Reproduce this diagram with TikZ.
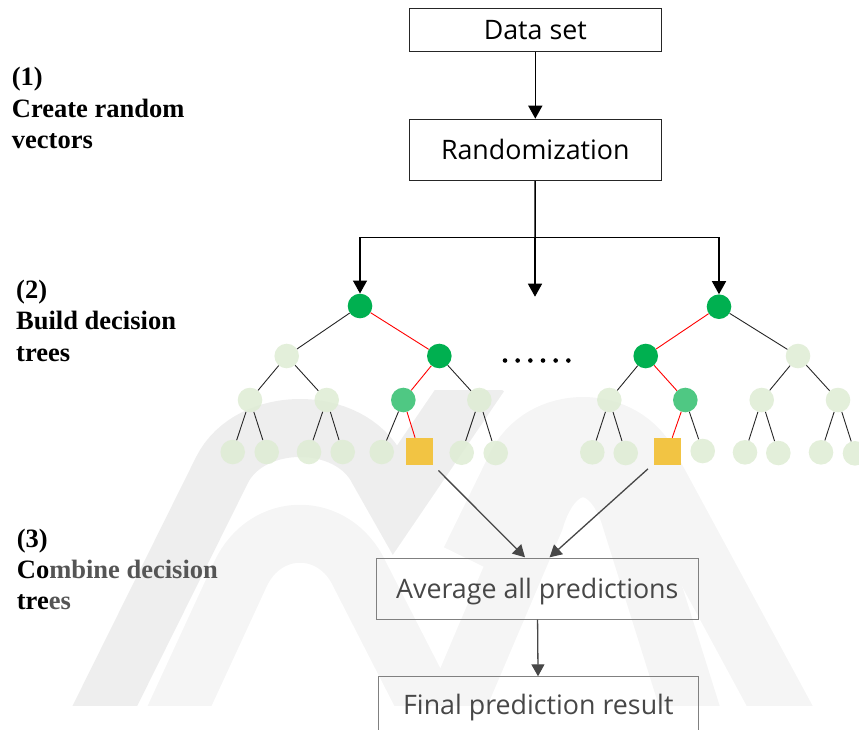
\documentclass[tikz,border=0pt]{standalone}
\usepackage{fontspec}
\setmainfont{Liberation Serif}
\newfontfamily\boxfont{Open Sans}
\usetikzlibrary{arrows.meta}

\definecolor{dgreen}{HTML}{00B050}
\definecolor{mgreen}{HTML}{4FC883}
\definecolor{lgreen}{HTML}{DEECD4}
\definecolor{gold}{HTML}{F2C443}
\definecolor{wmA}{HTML}{EEEEEE}
\definecolor{wmB}{HTML}{F5F5F5}
\definecolor{txtgray}{HTML}{474747}
\definecolor{fadetxt}{HTML}{555555}

\tikzset{
  box/.style={draw=black!85, line width=0.8pt, inner sep=0pt,
    text height=19pt, text depth=0pt,
    font=\boxfont\fontsize{26.8}{30}\selectfont},
  outbox/.style={box, draw=black!50, text=txtgray},
  dnode/.style={circle, fill=dgreen, minimum size=24.6pt, inner sep=0pt},
  mnode/.style={circle, fill=mgreen, minimum size=24.6pt, inner sep=0pt},
  fnode/.style={circle, fill=lgreen, fill opacity=0.85, minimum size=24.6pt, inner sep=0pt},
  leaf/.style={rectangle, fill=gold, minimum size=26.7pt, inner sep=0pt},
  tedge/.style={black!85, line width=0.9pt},
  redge/.style={red, line width=0.9pt},
  flow/.style={black, line width=1.5pt},
  flowarrow/.style={flow, -{Triangle[length=13pt,width=14pt]}},
  garrow/.style={draw=txtgray, line width=1.3pt, -{Triangle[length=12pt,width=13pt]}},
  lbl/.style={anchor=base west, inner sep=0pt,
    font=\bfseries\fontsize{26.5}{31}\selectfont},
}

\begin{document}
\begin{tikzpicture}[x=1pt,y=-1pt]
\useasboundingbox (0,0) rectangle (859,729);
\clip (0,0) rectangle (859,729);

% faint background logo
\begin{scope}
  \clip (0,390) rectangle (859,705);
  \draw[wmB, line width=58pt, line join=round]
    (150,770) -- (240,575) .. controls (265,520) and (335,520) .. (360,575) -- (470,790);
  \draw[wmB, line width=58pt, line join=round]
    (420,790) -- (535,520) .. controls (555,451) and (611,451) .. (631,520) -- (700,740);
  \draw[wmB, line width=58pt, line join=round]
    (470,560) -- (515,468) .. controls (540,412) and (626,412) .. (651,468) -- (790,725);
  \draw[wmA, line width=58pt, line join=miter]
    (78,760) -- (222,470) .. controls (250,414) and (350,414) .. (378,470) -- (395,500) -- (480,375);
\end{scope}

% flow boxes
\node[box, minimum width=252.7pt, minimum height=43.4pt] (ds) at (535.3,30) {Data set};
\node[box, minimum width=252.7pt, minimum height=61.7pt] (rand) at (535.3,149.9) {Randomization};
\node[outbox, minimum width=322.6pt, minimum height=61pt] (avg) at (537.3,588.8) {Average all predictions};
\node[outbox, text depth=5pt, minimum width=320.6pt, minimum height=61pt] (fin) at (538.3,707.2) {Final prediction result};

% left tree
\node[dnode] (lr) at (360,306) {};
\node[fnode] (la) at (286.7,356) {};
\node[dnode] (lb) at (439.3,356) {};
\node[fnode] (lc) at (250,400) {};
\node[fnode] (ld) at (326.7,400) {};
\node[mnode] (le) at (403.3,400) {};
\node[fnode] (lf) at (479.3,400) {};
\node[fnode] (l1) at (232.7,452) {};
\node[fnode] (l2) at (266.7,452) {};
\node[fnode] (l3) at (309,452) {};
\node[fnode] (l4) at (342.7,452) {};
\node[fnode] (l5) at (381.7,452) {};
\node[leaf]  (l6) at (419.3,451.3) {};
\node[fnode] (l7) at (461.7,452.7) {};
\node[fnode] (l8) at (495.7,453) {};

\draw[tedge] (lr) -- (la);
\draw[redge] (lr) -- (lb);
\draw[tedge] (la) -- (lc);
\draw[tedge] (la) -- (ld);
\draw[redge] (lb) -- (le);
\draw[tedge] (lb) -- (lf);
\draw[tedge] (lc) -- (l1);
\draw[tedge] (lc) -- (l2);
\draw[tedge] (ld) -- (l3);
\draw[tedge] (ld) -- (l4);
\draw[tedge] (le) -- (l5);
\draw[redge] (le) -- (l6);
\draw[tedge] (lf) -- (l7);
\draw[tedge] (lf) -- (l8);

% right tree
\node[dnode] (rr) at (719,306.7) {};
\node[dnode] (ra) at (645.7,356) {};
\node[fnode] (rb) at (798,356) {};
\node[fnode] (rc) at (609.3,400) {};
\node[mnode] (rd) at (685.3,400) {};
\node[fnode] (re) at (761.7,400) {};
\node[fnode] (rf) at (838,400) {};
\node[fnode] (r1) at (592.3,452.3) {};
\node[fnode] (r2) at (625.7,453) {};
\node[leaf]  (r3) at (667.5,451.3) {};
\node[fnode] (r4) at (702.7,451) {};
\node[fnode] (r5) at (745,452.3) {};
\node[fnode] (r6) at (778.3,453) {};
\node[fnode] (r7) at (821,452.3) {};
\node[fnode] (r8) at (855,453.3) {};

\draw[redge] (rr) -- (ra);
\draw[tedge] (rr) -- (rb);
\draw[tedge] (ra) -- (rc);
\draw[redge] (ra) -- (rd);
\draw[tedge] (rb) -- (re);
\draw[tedge] (rb) -- (rf);
\draw[tedge] (rc) -- (r1);
\draw[tedge] (rc) -- (r2);
\draw[redge] (rd) -- (r3);
\draw[tedge] (rd) -- (r4);
\draw[tedge] (re) -- (r5);
\draw[tedge] (re) -- (r6);
\draw[tedge] (rf) -- (r7);
\draw[tedge] (rf) -- (r8);

% ellipsis between the trees
\foreach \k in {0,...,5}
  \fill (505+12.67*\k,360.5) circle (2.3pt);

% randomization fan-out
\coordinate (split) at (535,237.7);
\coordinate (mid) at (535,296.7);
\draw[flowarrow] (ds) -- (rand);
\draw[flow] (rand) -- (split);
\draw[flowarrow] (split) -| (lr);
\draw[flowarrow] (split) -| (rr);
\draw[flowarrow] (split) -- (mid);

% combining the leaf predictions
\coordinate (inL) at (525,557.3);
\coordinate (inR) at (549.6,557.3);
\draw[garrow, shorten <=8pt] (l6) -- (inL);
\draw[garrow, shorten <=8pt] (r3) -- (inR);
\draw[garrow] (avg) -- (fin);

% step labels
\node[lbl] (s1a) at (11.7,85) {(1)};
\node[lbl] (s1b) at (11.7,117) {Create random};
\node[lbl] (s1c) at (11.7,148.3) {vectors};
\node[lbl] (s2a) at (16,298.3) {(2)};
\node[lbl] (s2b) at (16,329.5) {Build decision};
\node[lbl] (s2c) at (16,361.3) {trees};
\node[lbl] (s3a) at (16.7,547) {(3)};
\node[lbl] (s3b) at (16.7,578.3) {Co\textcolor{fadetxt}{mbine decision}};
\node[lbl] (s3c) at (16.7,609) {tre\textcolor{fadetxt}{es}};
\end{tikzpicture}
\end{document}
